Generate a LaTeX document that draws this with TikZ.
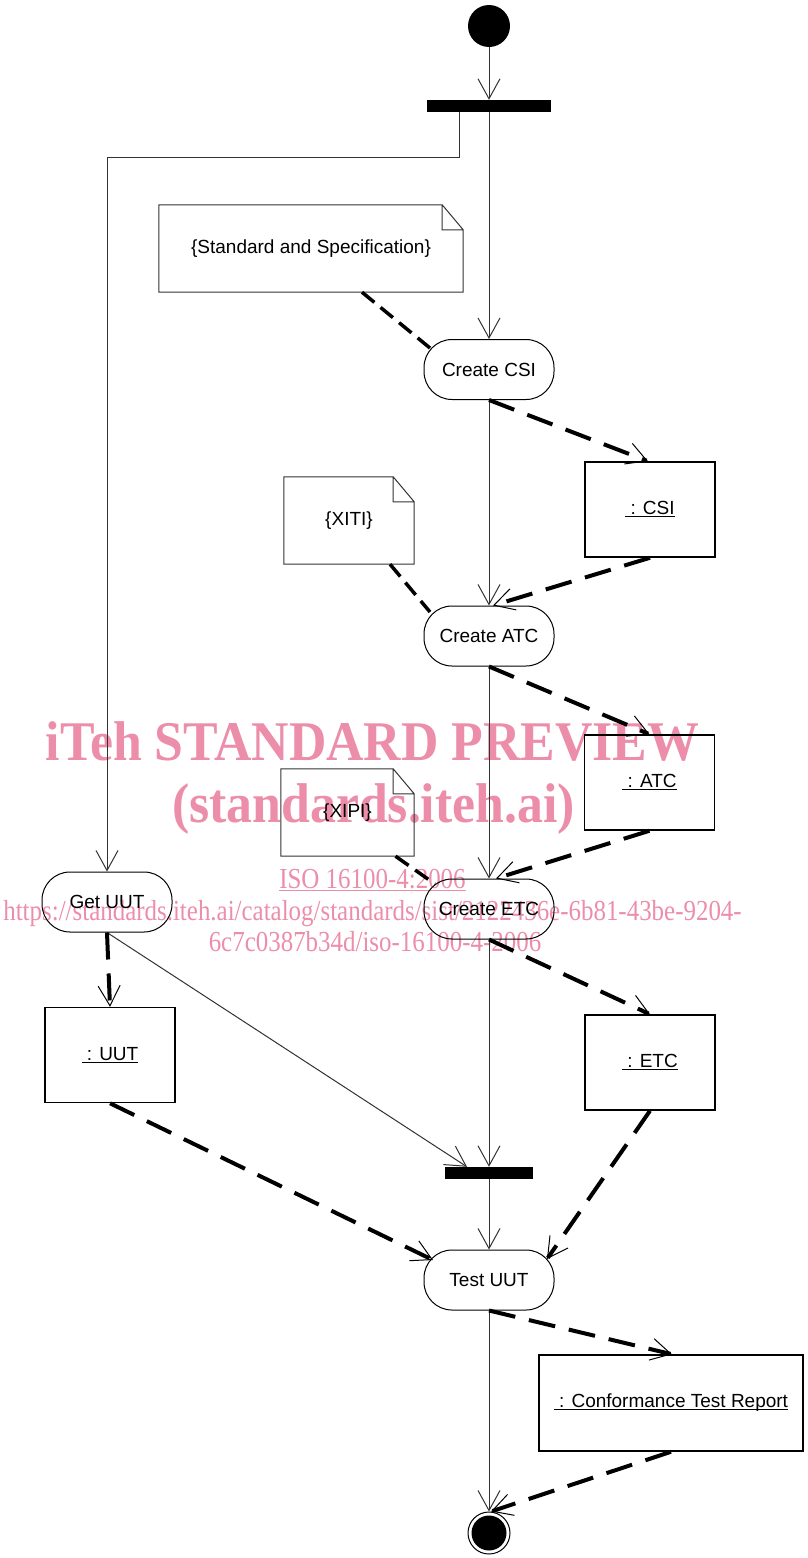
\documentclass[tikz,border=0pt]{standalone}
\usepackage{fontspec}
\setmainfont{Liberation Sans}
\newfontfamily\wmfont{Liberation Serif}
\usepackage{graphicx}
\usetikzlibrary{arrows.meta}
\definecolor{wmpink}{RGB}{236,141,170}
\definecolor{flowgray}{RGB}{50,50,50}
\newsavebox\myulbox
\newcommand{\objul}[1]{\sbox\myulbox{#1}\rlap{\rule[-2.5pt]{\wd\myulbox}{1.2pt}}\usebox\myulbox}
\newcommand{\wmul}[1]{\sbox\myulbox{#1}\rlap{\rule[-3pt]{\wd\myulbox}{1.2pt}}\usebox\myulbox}
\tikzset{
  every node/.style={font=\fontsize{19}{22}\selectfont, inner sep=0pt},
  action/.style={draw=black, line width=1pt, rounded corners=28pt, minimum width=130pt, minimum height=60pt},
  objbox/.style={draw=black, line width=1.5pt, minimum width=130pt, minimum height=95pt},
  notebox/.style={minimum height=87pt},
  noteline/.style={draw=flowgray, line width=1pt},
  syncbar/.style={fill=black, draw=none, minimum height=12pt},
  flowline/.style={draw=flowgray, line width=1pt, -{Straight Barb[length=20pt,width=22pt,line width=1pt]}},
  objflow/.style={draw=black, line width=4pt, dash pattern=on 27pt off 14pt, -{Straight Barb[length=20pt,width=22pt,line width=1pt]}},
  anchorline/.style={draw=black, line width=3.5pt, dash pattern=on 16pt off 8pt},
  wmtext/.style={text=wmpink, anchor=base},
}
\begin{document}
\begin{tikzpicture}[x=1pt, y=-1pt]
\useasboundingbox (0,0) rectangle (807,1558);

% watermark (beneath)
\node[wmtext] (wm1) at (372.5,760) {\scalebox{0.925}[1]{\wmfont\fontsize{56}{60}\selectfont\bfseries iTeh STANDARD PREVIEW}};
\node[wmtext] (wm2) at (373.5,822) {\scalebox{0.925}[1]{\wmfont\fontsize{56}{60}\selectfont\bfseries (standards.iteh.ai)}};
\node[wmtext] (wm3) at (372.5,888) {\scalebox{0.86}[1]{\wmfont\fontsize{29}{32}\selectfont\wmul{ISO 16100-4:2006}}};
\node[wmtext] (wm4) at (372.5,920) {\scalebox{0.86}[1]{\wmfont\fontsize{29}{32}\selectfont https://standards.iteh.ai/catalog/standards/sist/2122436e-6b81-43be-9204-}};
\node[wmtext] (wm5) at (375,951) {\scalebox{0.86}[1]{\wmfont\fontsize{29}{32}\selectfont 6c7c0387b34d/iso-16100-4-2006}};

% nodes
\node[circle, fill=black, minimum size=42pt] (init) at (489,26) {};
\node[syncbar, minimum width=124pt] (fork) at (489,106) {};
\node[notebox, minimum width=304pt] (note1) at (311,248.5) {\{Standard and Specification\}};
\node[action] (csi) at (489,369.5) {Create CSI};
\node[objbox] (csiobj) at (650,509.5) {\objul{\ : CSI}};
\node[notebox, minimum width=130pt] (note2) at (349,520.5) {\{XITI\}};
\node[action] (atc) at (489,636) {Create ATC};
\node[objbox] (atcobj) at (649.5,782.5) {\objul{\ : ATC}};
\node[notebox, minimum width=133pt] (note3) at (347.5,812.5) {\{XIPI\}};
\node[action] (etc) at (489,909) {Create ETC};
\node[action] (getuut) at (107,902) {Get UUT};
\node[objbox] (uutobj) at (110,1055) {\objul{\ : UUT}};
\node[objbox] (etcobj) at (650,1062.5) {\objul{\ : ETC}};
\node[syncbar, minimum width=88pt] (join) at (489,1173) {};
\node[action] (test) at (489,1280) {Test UUT};
\node[objbox, minimum width=264pt, minimum height=96pt] (report) at (671,1403) {\objul{\ : Conformance Test Report}};
\node[circle, draw=black, line width=1pt, minimum size=42pt] (final) at (489,1533) {};
\fill[black] (final.center) circle (17.5pt);

% note outlines with folded corner
\foreach \n in {note1,note2,note3}{
  \draw[noteline] (\n.south west) -- (\n.north west) -- ([xshift=-21pt]\n.north east)
    -- ([yshift=-25pt]\n.north east) -- (\n.south east) -- cycle
    ([xshift=-21pt]\n.north east) |- ([yshift=-25pt]\n.north east);
}

% control flows
\draw[flowline] (init) -- (fork);
\draw[flowline] ([xshift=-30pt]fork.south) -- ++(0,45) -| (getuut);
\draw[flowline] (fork) -- (csi);
\draw[flowline] (csi) -- (atc);
\draw[flowline] (atc) -- (etc);
\draw[flowline] (etc) -- (join);
\draw[flowline] (getuut.south) -- ([xshift=-22pt]join.north);
\draw[flowline] (join) -- (test);
\draw[flowline] (test) -- (final);

% object flows
\draw[objflow] (csi.south) -- ([xshift=-2pt]csiobj.north);
\draw[objflow] (csiobj.south) -- ([xshift=4pt]atc.north);
\draw[objflow] (atc.south) -- (atcobj.north);
\draw[objflow] (atcobj.south) -- ([xshift=7pt]etc.north);
\draw[objflow] (etc.south) -- (etcobj.north);
\draw[objflow] (getuut.south) -- (uutobj.north);
\draw[objflow] (uutobj.south) -- ([shift={(-56,-20)}]test.center);
\draw[objflow] (etcobj.south) -- ([shift={(58,-21)}]test.center);
\draw[objflow] (test.south) -- ([xshift=1pt]report.north);
\draw[objflow] (report.south) -- ([xshift=2pt]final.north);

% note anchors
\draw[anchorline] ([xshift=51pt]note1.south) -- ([shift={(-56,-19)}]csi.center);
\draw[anchorline] ([xshift=41pt]note2.south) -- ([shift={(-59,-24)}]atc.center);
\draw[anchorline] ([xshift=48pt]note3.south) -- ([shift={(-54,-25)}]etc.center);
\end{tikzpicture}
\end{document}
